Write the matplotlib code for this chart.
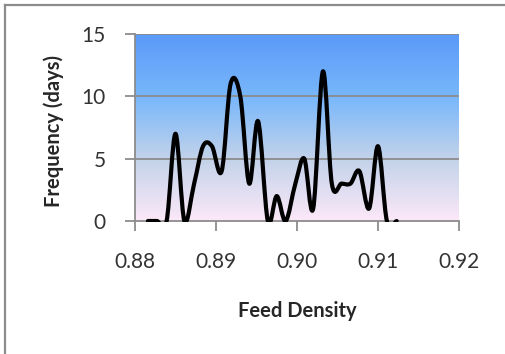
import numpy as np
import matplotlib.pyplot as plt
from matplotlib.path import Path
from matplotlib.patches import PathPatch, Rectangle
from matplotlib.colors import LinearSegmentedColormap

# feed density bins and frequency counts
density = [0.8816, 0.8827, 0.8839, 0.8850, 0.8861, 0.8873, 0.8884, 0.8895,
           0.8907, 0.8918, 0.8930, 0.8941, 0.8952, 0.8964, 0.8975, 0.8986,
           0.8998, 0.9009, 0.9020, 0.9032, 0.9043, 0.9055, 0.9066, 0.9077,
           0.9089, 0.9100, 0.9111, 0.9123]
frequency = [0, 0, 0, 7, 0, 3, 6, 6,
             4, 11, 10, 3, 8, 0, 2, 0,
             3, 5, 1, 12, 3, 3, 3, 4,
             1, 6, 0, 0]
xticks = [0.88, 0.89, 0.90, 0.91, 0.92]
xticklabels = ['0.88', '0.89', '0.90', '0.91', '0.92']
yticks = [0, 5, 10, 15]

plt.rcParams['font.family'] = ['Lato', 'DejaVu Sans']

fig = plt.figure(figsize=(5.05, 3.54), dpi=100)
# outer chart border (top and left visible)
fig.add_artist(plt.Line2D([4.5/505, 4.5/505], [0, 1 - 4.5/354], color='#8c8c8c', lw=1.6))
fig.add_artist(plt.Line2D([4.5/505, 1], [1 - 4.5/354, 1 - 4.5/354], color='#8c8c8c', lw=1.6))

ax = fig.add_axes([135/505, 1 - 221/354, (459 - 135)/505, (221 - 34)/354])
ax.set_xlim(0.88, 0.92)
ax.set_ylim(0, 15)

# gradient background
cmap = LinearSegmentedColormap.from_list('bg', [(0, '#fce8f8'), (0.33, '#c3d3ea'),
                                                (0.66, '#79b7fb'), (1, '#5a9af8')])
grad = np.linspace(0, 1, 256).reshape(-1, 1)
ax.imshow(grad, cmap=cmap, aspect='auto', origin='lower',
          extent=[0.88, 0.92, 0, 15], zorder=0)

for y in yticks[1:]:
    ax.axhline(y, color='#8c8c8c', lw=1.3, zorder=1)

# smooth line (Catmull-Rom bezier like Excel)
pts = np.column_stack([density, frequency]).astype(float)
verts = [pts[0]]
codes = [Path.MOVETO]
n = len(pts)
for i in range(n - 1):
    p0 = pts[max(i - 1, 0)]
    p1 = pts[i]
    p2 = pts[i + 1]
    p3 = pts[min(i + 2, n - 1)]
    c1 = p1 + (p2 - p0) / 6
    c2 = p2 - (p3 - p1) / 6
    verts += [c1, c2, p2]
    codes += [Path.CURVE4] * 3
line = PathPatch(Path(verts, codes), fill=False, lw=3, color='black',
                 capstyle='round', joinstyle='round', zorder=3)
ax.add_patch(line)
# clip just under the zero line so dips are cut off but the flat runs stay visible
clip = Rectangle((0.88, -0.12), 0.04, 16, transform=ax.transData)
line.set_clip_path(clip)

for s in ['top', 'right']:
    ax.spines[s].set_visible(False)
ax.spines['left'].set_color('#8c8c8c')
ax.spines['bottom'].set_color('#8c8c8c')
ax.spines['left'].set_linewidth(1.3)
ax.spines['bottom'].set_linewidth(1.3)
ax.spines['bottom'].set_zorder(2)

ax.set_xticks(xticks)
ax.set_xticklabels(xticklabels)
ax.set_yticks(yticks)
ax.tick_params(axis='both', colors='#8c8c8c', labelcolor='#333333', labelsize=15,
               length=7, width=1.3)
ax.tick_params(axis='x', pad=15)
ax.tick_params(axis='y', pad=14)

fig.text(297/505, 1 - 311/354, 'Feed Density', ha='center', va='center',
         fontsize=14.5, fontweight='bold', color='#262626')
fig.text(54/505, 1 - 131/354, 'Frequency (days)', ha='center', va='center',
         rotation=90, fontsize=14.5, fontweight='bold', color='#262626')

fig.savefig('out.png', dpi=100)
